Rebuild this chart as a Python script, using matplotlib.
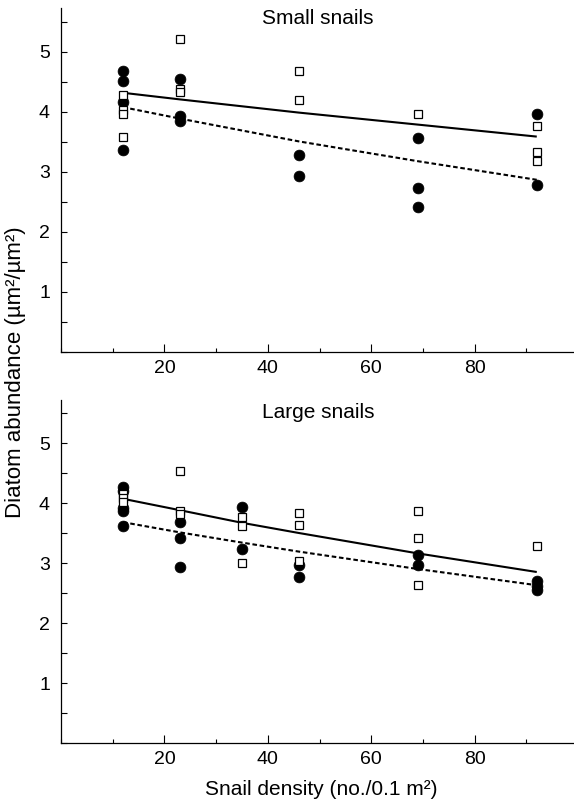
import matplotlib
matplotlib.use("Agg")
import matplotlib.pyplot as plt
from matplotlib.ticker import MultipleLocator

plt.rcParams['font.family'] = ['Liberation Sans', 'DejaVu Sans']

# ---------------- data ----------------
# Small snails panel
small_circle_x = [12, 12, 12, 12, 23, 23, 23, 46, 46, 69, 69, 69, 92, 92]
small_circle_y = [4.69, 4.51, 4.16, 3.37, 4.55, 3.93, 3.85, 3.29, 2.94, 3.57, 2.73, 2.42, 3.96, 2.79]
small_square_x = [12, 12, 12, 12, 23, 23, 23, 46, 46, 69, 92, 92, 92]
small_square_y = [4.28, 4.03, 3.97, 3.58, 5.22, 4.38, 4.34, 4.68, 4.20, 3.97, 3.76, 3.34, 3.19]
small_fit_x = [12, 23, 46, 69, 92]
small_fit_solid = [4.32, 4.21, 3.99, 3.79, 3.59]
small_fit_dashed = [4.08, 3.89, 3.51, 3.18, 2.87]

# Large snails panel
large_circle_x = [12, 12, 12, 12, 12, 23, 23, 23, 35, 35, 46, 46, 69, 69, 92, 92, 92]
large_circle_y = [4.27, 4.20, 3.92, 3.86, 3.62, 3.69, 3.42, 2.94, 3.94, 3.24, 2.96, 2.76, 3.14, 2.96, 2.70, 2.62, 2.55]
large_square_x = [12, 12, 12, 23, 23, 23, 35, 35, 35, 46, 46, 46, 69, 69, 69, 92]
large_square_y = [4.15, 4.08, 4.02, 4.54, 3.87, 3.82, 3.77, 3.61, 3.00, 3.83, 3.63, 3.04, 3.86, 3.41, 2.64, 3.29]
large_fit_x = [12, 23, 35, 46, 69, 92]
large_fit_solid = [4.07, 3.88, 3.67, 3.50, 3.16, 2.85]
large_fit_dashed = [3.68, 3.51, 3.34, 3.19, 2.90, 2.63]

x_ticks = [20, 40, 60, 80]
y_ticks = [1, 2, 3, 4, 5]

W, H = 574, 805
fig = plt.figure(figsize=(W / 100, H / 100), dpi=100)

def px_axes(left, top, right, bottom):
    return fig.add_axes([left / W, 1 - bottom / H, (right - left) / W, (bottom - top) / H])

ax1 = px_axes(61, 8, 574, 352)
ax2 = px_axes(61, 400, 574, 743)

panels = [
    (ax1, "Small snails", small_circle_x, small_circle_y, small_square_x, small_square_y,
     small_fit_x, small_fit_solid, small_fit_dashed, (352 - 8) / 60.0, 18),
    (ax2, "Large snails", large_circle_x, large_circle_y, large_square_x, large_square_y,
     large_fit_x, large_fit_solid, large_fit_dashed, (743 - 400) / 60.0, 412),
]

for ax, title, cx, cy, sx, sy, fx, fs, fd, ytop, ty in panels:
    ax.plot(fx, fs, color='black', lw=1.5, zorder=2, solid_capstyle='butt')
    ax.plot(fx, fd, color='black', lw=1.5, dashes=(2.2, 1.3), zorder=2)
    ax.plot(cx, cy, 'o', ms=7.8, mfc='black', mec='black', mew=0.5, ls='none', zorder=3)
    ax.plot(sx, sy, 's', ms=6.2, mfc='white', mec='black', mew=0.9, ls='none', zorder=4)

    ax.set_xlim(0, 99.2)
    ax.set_ylim(0, ytop)
    for s in ['top', 'right']:
        ax.spines[s].set_visible(False)
    for s in ['left', 'bottom']:
        ax.spines[s].set_linewidth(0.9)

    ax.xaxis.set_minor_locator(MultipleLocator(10))
    ax.yaxis.set_minor_locator(MultipleLocator(0.5))
    ax.set_xticks(x_ticks)
    ax.set_yticks(y_ticks)
    ax.tick_params(axis='both', which='both', direction='in', color='black', width=0.8)
    ax.tick_params(axis='x', which='major', length=6, pad=6, labelsize=14)
    ax.tick_params(axis='x', which='minor', length=3)
    ax.tick_params(axis='y', which='major', length=4, pad=8, labelsize=14)
    ax.tick_params(axis='y', which='minor', length=4)

    fig.text(318 / W, 1 - ty / H, title, ha='center', va='center', fontsize=15)

fig.text(321 / W, 1 - 789 / H, "Snail density (no./0.1 m²)", ha='center', va='center', fontsize=15)
fig.text(16 / W, 1 - 372 / H, "Diatom abundance (µm²/µm²)", rotation=90,
         ha='center', va='center', fontsize=16)

fig.savefig("out.png", dpi=100)
